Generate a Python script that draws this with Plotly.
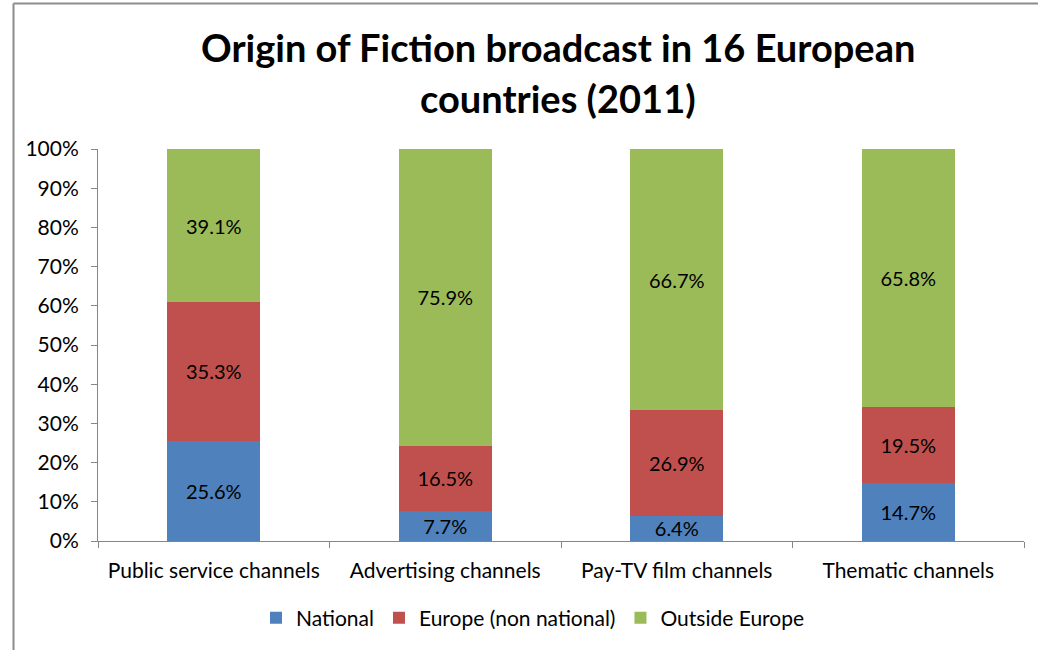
import plotly.graph_objects as go

categories = ["Public service channels", "Advertising channels", "Pay-TV film channels", "Thematic channels"]
national = [25.6, 7.7, 6.4, 14.7]
europe = [35.3, 16.5, 26.9, 19.5]
outside = [39.1, 75.9, 66.7, 65.8]
series_names = ["National", "Europe (non national)", "Outside Europe"]
colors = ["#4F81BD", "#C0504D", "#9BBB59"]
ytick_vals = list(range(0, 101, 10))
ytick_text = [f"{v}%" for v in ytick_vals]
title_lines = ["Origin of Fiction broadcast in 16 European", "countries (2011)"]

FONT = "Lato"

fig = go.Figure()
for name, vals, col in zip(series_names, [national, europe, outside], colors):
    fig.add_trace(go.Bar(
        x=categories, y=vals, name=name,
        marker=dict(color=col, line=dict(width=0)),
        text=[f"{v:.1f}%" for v in vals],
        textposition="inside", insidetextanchor="middle",
        textfont=dict(family=FONT, size=20, color="black"),
        constraintext="none",
        hoverinfo="skip",
    ))

L, R, T, B = 98, 14, 149, 109
W, H = 1038, 650
pw, ph = W - L - R, H - T - B

def px_x(x):
    return (x - L) / pw

def px_y(y):
    return (H - B - y) / ph

annotations = []
for line, ypix in zip(title_lines, [47, 98]):
    annotations.append(dict(
        text=f"<b>{line}</b>", xref="paper", yref="paper",
        x=px_x(558), y=px_y(ypix), xanchor="center", yanchor="middle",
        showarrow=False, font=dict(family=FONT, size=38, color="black"),
    ))

fig.update_layout(
    barmode="stack",
    bargap=0.6,
    width=W, height=H,
    margin=dict(l=L, r=R, t=T, b=B, autoexpand=False),
    paper_bgcolor="white", plot_bgcolor="white",
    font=dict(family=FONT, size=21, color="black"),
    annotations=annotations,
    xaxis=dict(
        showline=True, linecolor="#868686", linewidth=1,
        ticks="outside", tickson="boundaries", ticklen=6, tickcolor="#868686",
        tickfont=dict(family=FONT, size=21, color="black"),
        ticklabelstandoff=11,
        showgrid=False,
    ),
    yaxis=dict(
        range=[0, 100], tickvals=ytick_vals, ticktext=ytick_text,
        showline=True, linecolor="#868686", linewidth=1,
        ticks="outside", ticklen=6, tickcolor="#868686",
        tickfont=dict(family=FONT, size=21, color="black"),
        ticklabelstandoff=8,
        showgrid=False, zeroline=False,
    ),
    legend=dict(
        orientation="h", x=px_x(533), xanchor="center", y=px_y(618), yanchor="middle",
        font=dict(family=FONT, size=21, color="black"),
        traceorder="normal",
    ),
    shapes=[
        dict(type="line", xref="paper", yref="paper",
             x0=px_x(13.5), x1=px_x(13.5), y0=px_y(660), y1=px_y(3.5),
             line=dict(color="#8C8C8C", width=2)),
        dict(type="line", xref="paper", yref="paper",
             x0=px_x(13.5), x1=px_x(1050), y0=px_y(3.5), y1=px_y(3.5),
             line=dict(color="#8C8C8C", width=2)),
    ],
)

fig.write_html("out.html", config={"displayModeBar": False},
               post_script="document.body.style.margin='0';document.body.style.overflow='hidden';")
